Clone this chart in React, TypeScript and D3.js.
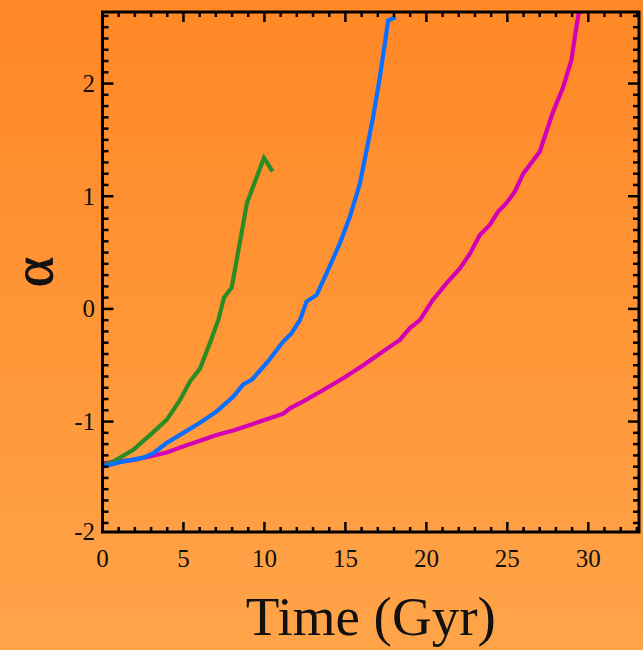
import React from "react";
import * as d3 from "d3";

const greenT = [0, 0.67, 1.9, 2.93, 3.96, 4.78, 5.4, 6.02, 6.64, 7.15, 7.5, 7.98, 8.92, 9.97, 10.5];
const greenA = [-1.39, -1.355, -1.25, -1.12, -0.985, -0.81, -0.645, -0.53, -0.3, -0.1, 0.1, 0.19, 0.94, 1.34, 1.22];

const blueT = [0, 1.08, 2.52, 3.14, 3.96, 4.99, 6.02, 7.05, 8.07, 8.69, 9.21, 10.14, 11.16, 11.68, 12.19, 12.6, 13.22, 13.84, 14.66, 15.28, 15.9, 16.31, 16.72, 17.13, 17.44, 17.64, 18.12];
const blueA = [-1.4, -1.36, -1.32, -1.28, -1.19, -1.1, -1.01, -0.91, -0.78, -0.67, -0.63, -0.48, -0.29, -0.215, -0.1, 0.065, 0.124, 0.317, 0.583, 0.82, 1.115, 1.41, 1.71, 2.06, 2.36, 2.56, 2.59];

const magentaT = [0, 1.9, 2.93, 3.96, 4.99, 6.02, 7.05, 8.07, 9.1, 10.14, 11.16, 11.6, 12.4, 13.63, 14.86, 16.1, 16.9, 17.75, 18.36, 18.98, 19.6, 20.4, 21.25, 22.07, 22.69, 23.3, 23.92, 24.43, 24.95, 25.46, 25.98, 27.0, 27.8, 28.45, 28.96, 29.27, 29.43];
const magentaA = [-1.37, -1.34, -1.31, -1.275, -1.22, -1.17, -1.12, -1.08, -1.03, -0.98, -0.93, -0.88, -0.82, -0.72, -0.615, -0.5, -0.42, -0.335, -0.275, -0.17, -0.1, 0.08, 0.228, 0.36, 0.49, 0.655, 0.745, 0.863, 0.94, 1.04, 1.2, 1.395, 1.74, 1.97, 2.21, 2.51, 2.64];

const xMajor = [0, 5, 10, 15, 20, 25, 30];
const yMajor = [-2, -1, 0, 1, 2];
const xLabel = "Time (Gyr)";
const yLabel = "α";

const W = 643;
const H = 650;
const L = 102.5, R = 639, T = 12, B = 532;
const FONT = "'Liberation Serif', 'Times New Roman', serif";

export default function App() {
  const x = d3.scaleLinear().domain([0, 33.13]).range([L, R]);
  const y = d3.scaleLinear().domain([-1.98, 2.635]).range([B, T]);
  const line = d3
    .line<[number, number]>()
    .x((d) => x(d[0]))
    .y((d) => y(d[1]));

  const series = [
    { t: magentaT, a: magentaA, c: "#d400b4" },
    { t: greenT, a: greenA, c: "#2a8c22" },
    { t: blueT, a: blueA, c: "#0a6eff" },
  ];

  const xMinor = d3.range(0, 34, 1).filter((v) => v % 5 !== 0 && x(v) < R - 1);
  const yMinor = d3
    .range(-19, 27, 1)
    .map((v) => v / 10)
    .filter((v) => Math.abs(v - Math.round(v)) > 1e-6 && y(v) > T + 1 && y(v) < B - 1);

  return (
    <svg
      width={W}
      height={H}
      style={{ position: "absolute", left: 0, top: 0, display: "block" }}
    >
      <defs>
        <linearGradient id="bg" x1="0" y1="0" x2="0" y2="1">
          <stop offset="0" stopColor="#ff8726" />
          <stop offset="1" stopColor="#ffa449" />
        </linearGradient>
        <clipPath id="plot">
          <rect x={L} y={T} width={R - L} height={B - T} />
        </clipPath>
      </defs>
      <rect x={0} y={0} width={W} height={H} fill="url(#bg)" />

      <g clipPath="url(#plot)">
        {series.map((s, i) => (
          <path
            key={i}
            d={line(s.t.map((t, j) => [t, s.a[j]] as [number, number])) || ""}
            fill="none"
            stroke={s.c}
            strokeWidth={4.2}
            strokeLinejoin="miter"
          />
        ))}
      </g>

      <g stroke="#000" strokeWidth={2.5}>
        {xMajor.map((v) => (
          <g key={"xM" + v}>
            <line x1={x(v)} x2={x(v)} y1={B} y2={B - 10} />
            <line x1={x(v)} x2={x(v)} y1={T} y2={T + 10} />
          </g>
        ))}
        {xMinor.map((v) => (
          <g key={"xm" + v}>
            <line x1={x(v)} x2={x(v)} y1={B} y2={B - 5} />
            <line x1={x(v)} x2={x(v)} y1={T} y2={T + 5} />
          </g>
        ))}
        {yMajor.map((v) =>
          y(v) >= T && y(v) <= B ? (
            <g key={"yM" + v}>
              <line x1={L} x2={L + 11} y1={y(v)} y2={y(v)} />
              <line x1={R} x2={R - 11} y1={y(v)} y2={y(v)} />
            </g>
          ) : null
        )}
        {yMinor.map((v) => (
          <g key={"ym" + v}>
            <line x1={L} x2={L + 6} y1={y(v)} y2={y(v)} />
            <line x1={R} x2={R - 6} y1={y(v)} y2={y(v)} />
          </g>
        ))}
      </g>
      <rect x={L} y={T} width={R - L} height={B - T} fill="none" stroke="#000" strokeWidth={3} />

      <g fontFamily={FONT} fontSize={25} fill="#111">
        {xMajor.map((v) => (
          <text key={"xl" + v} x={x(v)} y={567} textAnchor="middle">
            {String(v)}
          </text>
        ))}
        {yMajor.map((v) => (
          <text
            key={"yl" + v}
            x={95}
            y={Math.min(y(v), 531)}
            textAnchor="end"
            dominantBaseline="central"
          >
            {v < 0 ? "-" + Math.abs(v) : String(v)}
          </text>
        ))}
      </g>
      <text
        x={(L + R) / 2}
        y={635}
        textAnchor="middle"
        fontFamily={FONT}
        fontSize={55}
        fill="#111"
      >
        {xLabel}
      </text>
      <text
        transform={`translate(52, ${(T + B) / 2}) rotate(-90)`}
        textAnchor="middle"
        fontFamily={FONT}
        fontSize={58}
        fill="#111"
        stroke="#111"
        strokeWidth={0.8}
      >
        {yLabel}
      </text>
    </svg>
  );
}
